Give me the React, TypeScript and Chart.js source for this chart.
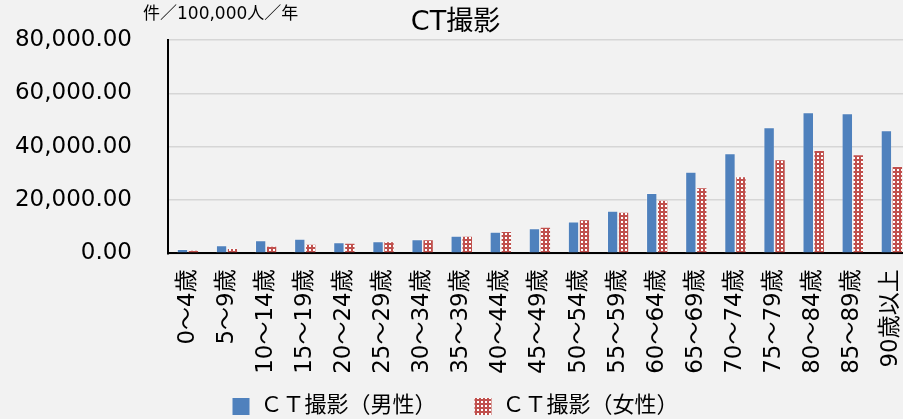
import React, { useEffect, useRef } from 'react';
import { Chart, registerables } from 'chart.js';

Chart.register(...registerables);

const categories = [
  '0～4歳', '5～9歳', '10～14歳', '15～19歳', '20～24歳', '25～29歳', '30～34歳',
  '35～39歳', '40～44歳', '45～49歳', '50～54歳', '55～59歳', '60～64歳', '65～69歳',
  '70～74歳', '75～79歳', '80～84歳', '85～89歳', '90歳以上',
];
const maleValues = [
  1610, 3000, 4880, 5480, 4130, 4500, 5250, 6600, 8100, 9380,
  11900, 15990, 22630, 30620, 37520, 47280, 52910, 52530, 46150,
];
const femaleValues = [
  1350, 2000, 2850, 3600, 3980, 4550, 5300, 6600, 8370, 9980,
  12760, 15610, 20110, 24770, 28890, 35270, 38760, 37150, 32760,
];
const yTicks = [0, 20000, 40000, 60000, 80000];
const seriesNames = ['ＣＴ撮影（男性）', 'ＣＴ撮影（女性）'];
const titleText = 'CT撮影';
const unitText = '件／100,000人／年';

const FONT = "'DejaVu Sans', 'Noto Sans CJK JP', sans-serif";
const BLUE = '#4F81BD';
const RED = '#C0504D';

function makePattern(): CanvasPattern | string {
  const c = document.createElement('canvas');
  c.width = 4;
  c.height = 4;
  const g = c.getContext('2d');
  if (!g) return RED;
  g.fillStyle = RED;
  g.fillRect(0, 0, 4, 4);
  g.fillStyle = '#ffffff';
  g.fillRect(1, 1, 2, 2);
  const p = g.createPattern(c, 'repeat');
  return p || RED;
}

const unitLabelPlugin = {
  id: 'unitLabel',
  afterDraw(chart: any) {
    const ctx = chart.ctx;
    ctx.save();
    ctx.font = `17px ${FONT}`;
    ctx.fillStyle = '#000';
    ctx.textAlign = 'left';
    ctx.textBaseline = 'middle';
    ctx.fillText(unitText, 143, 15);
    ctx.restore();
  },
};

export default function App() {
  const ref = useRef<HTMLCanvasElement | null>(null);

  useEffect(() => {
    if (!ref.current) return;
    const pattern = makePattern();
    const edge = { top: 1, left: 1, right: 0, bottom: 0 };
    const chart = new Chart(ref.current, {
      type: 'bar',
      data: {
        labels: categories,
        datasets: [
          {
            label: seriesNames[0],
            data: maleValues,
            backgroundColor: BLUE,
            borderColor: 'rgba(255,255,255,0.35)',
            borderWidth: edge,
            categoryPercentage: 0.56,
            barPercentage: 0.96,
          },
          {
            label: seriesNames[1],
            data: femaleValues,
            backgroundColor: pattern as any,
            borderColor: 'rgba(255,255,255,0.3)',
            borderWidth: edge,
            categoryPercentage: 0.56,
            barPercentage: 0.96,
          },
        ],
      },
      options: {
        responsive: false,
        maintainAspectRatio: false,
        animation: false,
        layout: { padding: { left: 0, right: 7, top: 0, bottom: -8.5 } },
        plugins: {
          title: {
            display: true,
            text: titleText,
            color: '#000',
            font: { family: FONT, size: 27, weight: 'normal' },
            padding: { top: 6.8, bottom: 0.8 },
          },
          legend: {
            display: true,
            position: 'bottom',
            labels: {
              color: '#000',
              font: { family: FONT, size: 22 },
              boxWidth: 17,
              boxHeight: 17,
              padding: 5,
              generateLabels: (c: any) => {
                const items = (Chart.defaults.plugins.legend.labels as any).generateLabels(c);
                items.forEach((it: any, i: number) => {
                  it.lineWidth = 0;
                  if (i < items.length - 1) it.text = it.text + '\u3000\u3000';
                });
                return items;
              },
            },
          },
          tooltip: { enabled: false },
        },
        scales: {
          x: {
            grid: { display: false, drawTicks: false },
            border: { display: true, color: '#000', width: 2 },
            ticks: {
              color: '#000',
              font: { family: FONT, size: 23 },
              minRotation: 90,
              maxRotation: 90,
              autoSkip: false,
              padding: 16,
            },
            afterFit: (s: any) => {
              s.height = 137.2;
              s.paddingLeft = 0;
              s.paddingRight = 0;
            },
          },
          y: {
            min: 0,
            max: 80000,
            grid: { color: '#d6d6d6', lineWidth: 1.5, drawTicks: false },
            border: { display: true, color: '#000', width: 2 },
            ticks: {
              color: '#000',
              font: { family: FONT, size: 23 },
              padding: 36,
              callback: (v: any) =>
                Number(v).toLocaleString('en-US', {
                  minimumFractionDigits: 2,
                  maximumFractionDigits: 2,
                }),
            },
            afterBuildTicks: (s: any) => {
              s.ticks = yTicks.map((v) => ({ value: v }));
            },
            afterFit: (s: any) => {
              s.width = 168;
              s.paddingTop = 0;
              s.paddingBottom = 0;
            },
          },
        },
      },
      plugins: [unitLabelPlugin],
    });
    return () => chart.destroy();
  }, []);

  return (
    <div
      style={{
        position: 'fixed',
        left: 0,
        top: 0,
        width: 903,
        height: 419,
        overflow: 'hidden',
        background: '#f2f2f2',
      }}
    >
      <canvas ref={ref} width={918} height={419} style={{ display: 'block', width: 918, height: 419 }} />
    </div>
  );
}
